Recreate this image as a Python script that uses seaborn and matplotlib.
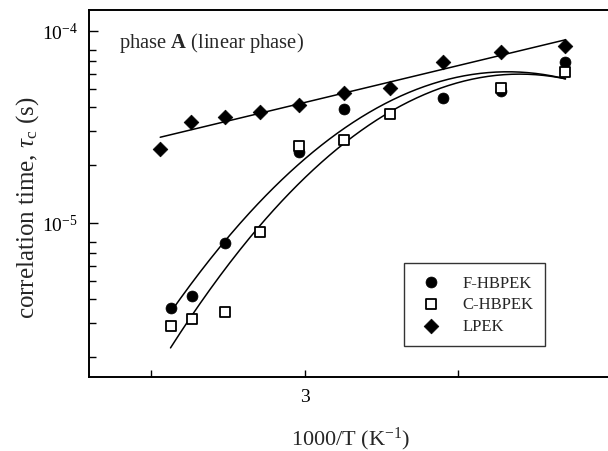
import numpy as np
import pandas as pd
import matplotlib
matplotlib.use("Agg")
import matplotlib.pyplot as plt
import seaborn as sns
from matplotlib.ticker import LogLocator, FixedLocator, NullFormatter, FuncFormatter

# ---------------- data ----------------
lpek_x = [2.906, 2.926, 2.9485, 2.971, 2.9967, 3.0254, 3.056, 3.0899, 3.1277, 3.170]
lpek_y = [2.43e-5, 3.34e-5, 3.58e-5, 3.80e-5, 4.12e-5, 4.75e-5, 5.07e-5, 6.92e-5, 7.74e-5, 8.38e-5]

fh_x = [2.9127, 2.9264, 2.9485, 2.9967, 3.0254, 3.0899, 3.1277, 3.170]
fh_y = [3.61e-6, 4.17e-6, 7.84e-6, 2.33e-5, 3.91e-5, 4.49e-5, 4.87e-5, 6.87e-5]

ch_x = [2.9127, 2.9264, 2.9485, 2.9713, 2.9967, 3.0254, 3.056, 3.1277, 3.170]
ch_y = [2.92e-6, 3.16e-6, 3.44e-6, 8.95e-6, 2.52e-5, 2.71e-5, 3.68e-5, 5.05e-5, 6.09e-5]

x_ticks = [2.9, 3.0, 3.1]
x_tick_labels = ["", "3", ""]
series_names = ["F-HBPEK", "C-HBPEK", "LPEK"]

# ---------------- style ----------------
sns.set_style("ticks")
plt.rcParams["font.family"] = ["Liberation Serif", "DejaVu Serif"]
plt.rcParams["mathtext.fontset"] = "custom"
plt.rcParams["mathtext.rm"] = "Liberation Serif"
plt.rcParams["mathtext.it"] = "Liberation Serif:italic"
plt.rcParams["mathtext.bf"] = "Liberation Serif:bold"

fig = plt.figure(figsize=(6.08, 4.52), dpi=100)
ax = fig.add_axes([89 / 608, 1 - 378 / 452, 523 / 608, 367 / 452])


def fit_curve(xs, ys, deg):
    xs = np.asarray(xs)
    coef = np.polyfit(xs, np.log10(ys), deg)
    xx = np.linspace(xs.min(), xs.max(), 200)
    return xx, 10 ** np.polyval(coef, xx)


for xs, ys, deg in [(fh_x, fh_y, 2), (ch_x, ch_y, 2), (lpek_x, lpek_y, 1)]:
    xx, yy = fit_curve(xs, ys, deg)
    sns.lineplot(x=xx, y=yy, ax=ax, color="black", lw=1.1, legend=False)

df_f = pd.DataFrame({"x": fh_x, "y": fh_y})
df_c = pd.DataFrame({"x": ch_x, "y": ch_y})
df_l = pd.DataFrame({"x": lpek_x, "y": lpek_y})

sns.scatterplot(data=df_f, x="x", y="y", ax=ax, marker="o", s=62,
                color="black", edgecolor="black", linewidth=0.5,
                label=series_names[0], zorder=3)
sns.scatterplot(data=df_c, x="x", y="y", ax=ax, marker="s", s=48,
                facecolor="white", edgecolor="black", linewidth=1.3,
                label=series_names[1], zorder=4)
sns.scatterplot(data=df_l, x="x", y="y", ax=ax, marker="D", s=56,
                color="black", edgecolor="black", linewidth=0.5,
                label=series_names[2], zorder=3)

ax.set_yscale("log")
ax.set_xlim(2.8596, 3.2003)
ax.set_ylim(10 ** (-5 - 154 / 192), 10 ** (-4 + 21 / 192))

ax.xaxis.set_major_locator(FixedLocator(x_ticks))
ax.set_xticklabels(x_tick_labels)
ax.xaxis.set_minor_locator(FixedLocator([]))

ax.yaxis.set_major_locator(LogLocator(base=10, subs=(1.0,)))
ax.yaxis.set_minor_locator(LogLocator(base=10, subs=(2, 3, 4, 5, 6, 7, 8)))
ax.yaxis.set_minor_formatter(NullFormatter())
ax.yaxis.set_major_formatter(
    FuncFormatter(lambda v, p: r"10$^{%d}$" % int(round(np.log10(v)))))

ax.tick_params(axis="both", which="both", direction="in", colors="black",
               labelsize=14)
ax.tick_params(axis="y", which="major", length=6.5, width=1.0, pad=8)
ax.tick_params(axis="y", which="minor", length=5, width=1.0)
ax.tick_params(axis="x", which="major", length=5, width=1.0, pad=8)

for side in ["top", "right", "left", "bottom"]:
    ax.spines[side].set_visible(True)
    ax.spines[side].set_linewidth(1.4)
    ax.spines[side].set_color("black")

ax.set_xlabel(r"1000/T (K$^{\mathrm{-1}}$)", fontsize=16, labelpad=14)
ax.set_ylabel(r"correlation time, $\tau_{\mathrm{c}}$ (s)", fontsize=18,
              va="center")
ax.yaxis.set_label_coords((28 - 89) / 523, (378 - 208) / 367)

ax.text(0.057, 0.913, r"phase $\mathbf{A}$ (linear phase)",
        transform=ax.transAxes, fontsize=14.8, va="center", ha="left")

leg = ax.legend(loc="lower left", bbox_to_anchor=(0.602, 0.0845),
                frameon=True, fancybox=False, edgecolor="black",
                fontsize=12, handletextpad=0.9, borderpad=0.7,
                handlelength=1.9, labelspacing=0.35, borderaxespad=0)
leg.get_frame().set_linewidth(1.0)

fig.savefig("out.png", dpi=100)
